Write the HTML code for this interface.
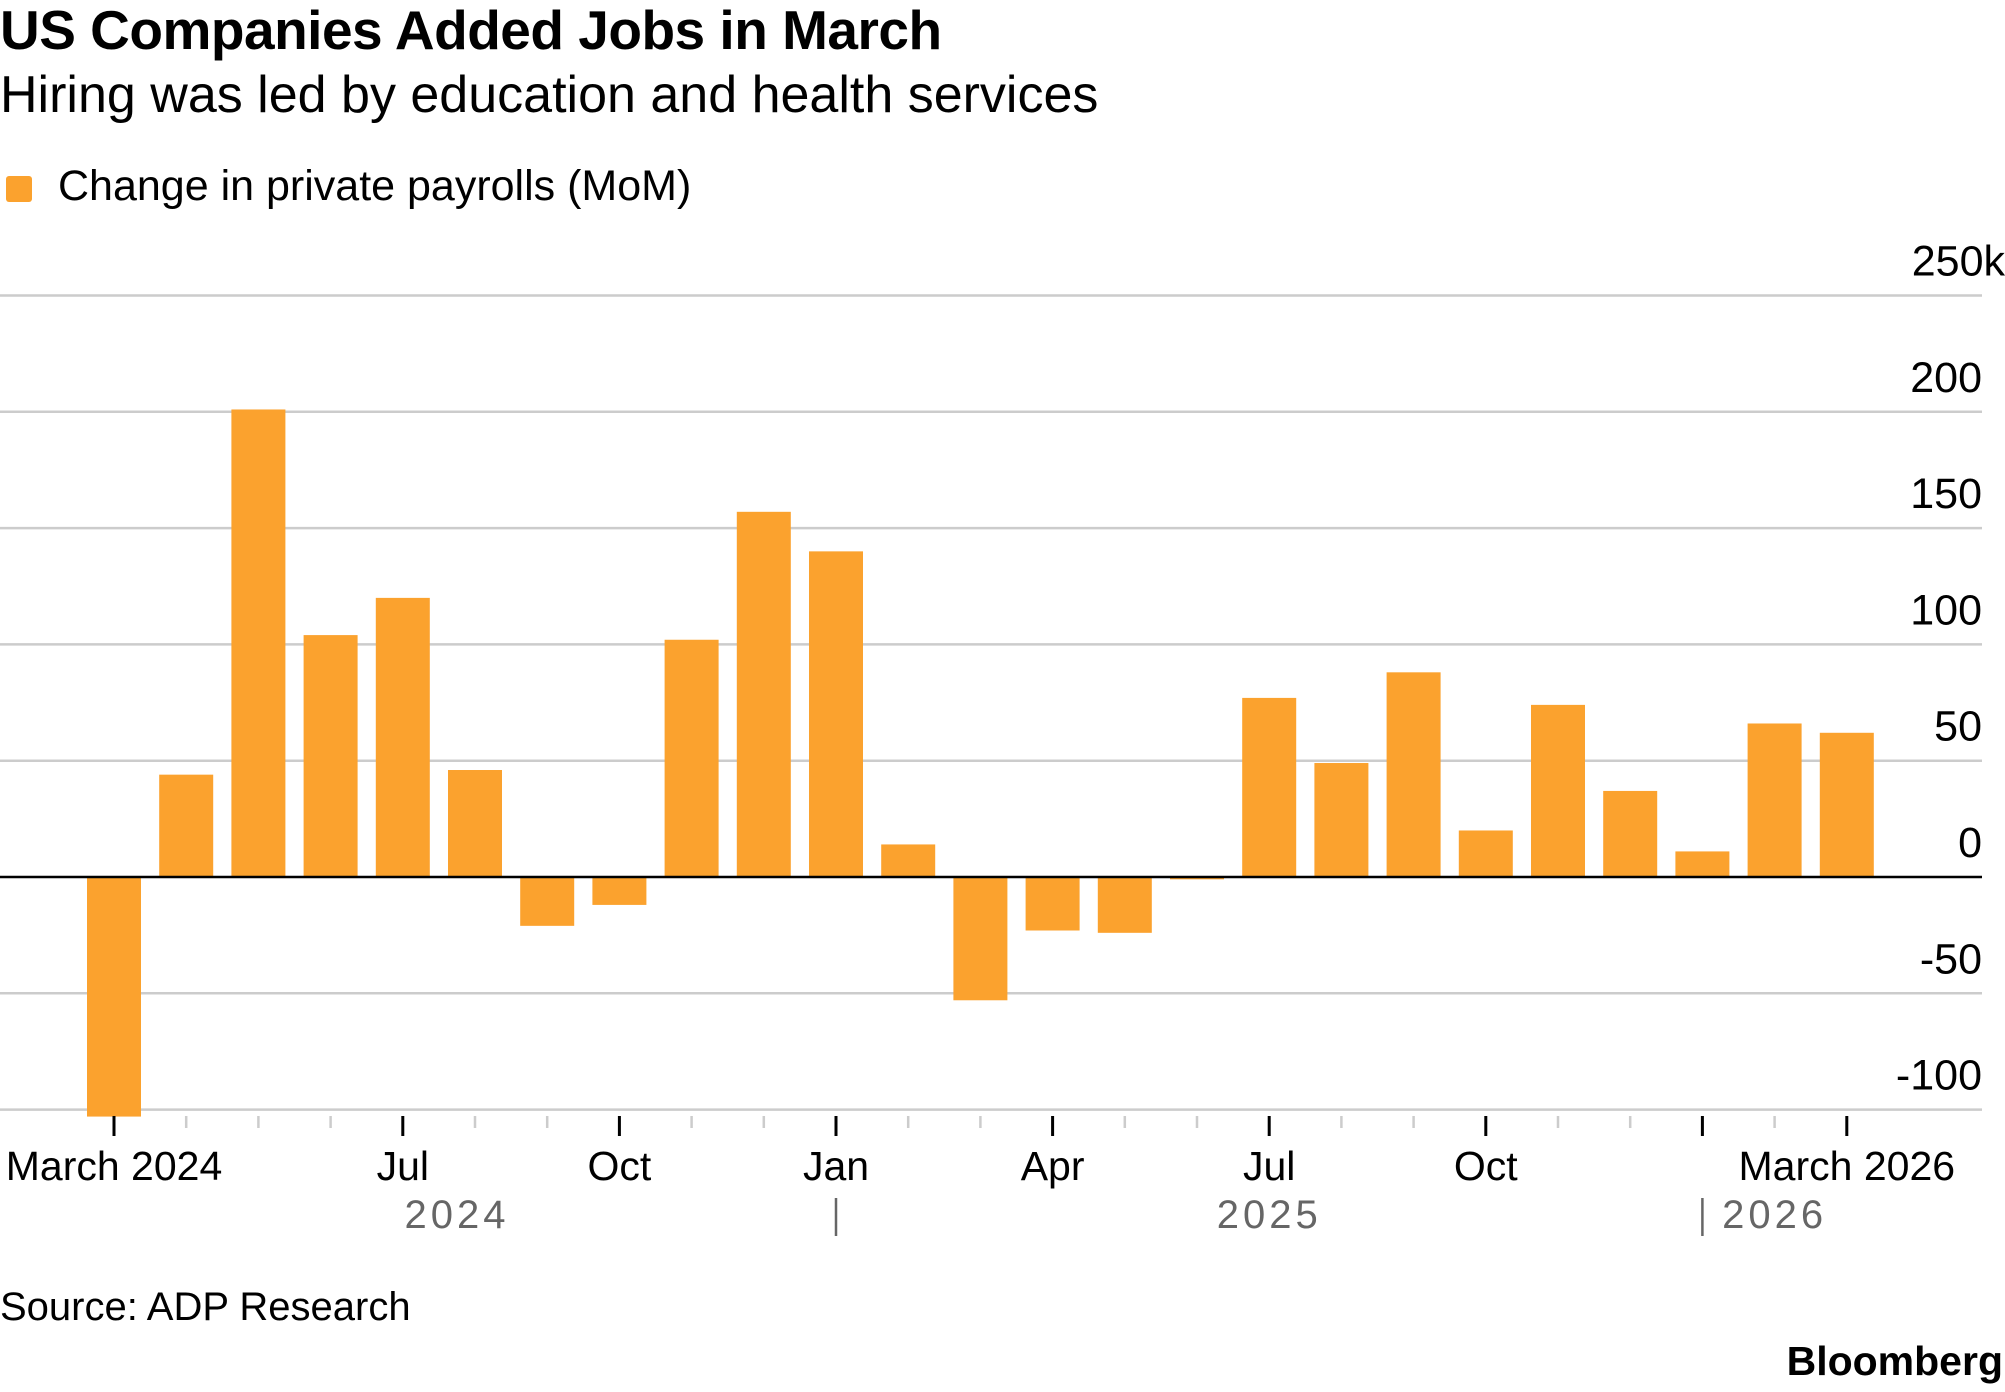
<!DOCTYPE html>
<html><head><meta charset="utf-8"><style>
body{margin:0;background:#fff;width:2005px;height:1392px;overflow:hidden;font-family:"Liberation Sans",sans-serif;color:#000}
.t{position:absolute;white-space:nowrap}
</style></head><body>
<div class="t" style="left:0;top:-2px;font-size:55px;font-weight:bold;letter-spacing:-0.5px">US Companies Added Jobs in March</div>
<div class="t" style="left:0;top:65px;font-size:52px">Hiring was led by education and health services</div>
<div>
<div style="position:absolute;left:6px;top:176px;width:26px;height:26px;background:#fba22e;border-radius:3px"></div>
<div class="t" style="left:58px;top:162px;font-size:43px">Change in private payrolls (MoM)</div>
</div>
<svg id="chart" width="2005" height="1392" style="position:absolute;left:0;top:0"></svg>
<div class="t" style="left:0;top:1285px;font-size:40px">Source: ADP Research</div>
<div class="t" style="right:2px;top:1338px;font-size:41px;font-weight:bold">Bloomberg</div>
<script>
const months=["Mar24","Apr24","May24","Jun24","Jul24","Aug24","Sep24","Oct24","Nov24","Dec24","Jan25","Feb25","Mar25","Apr25","May25","Jun25","Jul25","Aug25","Sep25","Oct25","Nov25","Dec25","Jan26","Feb26","Mar26"];
const values=[-103,44,201,104,120,46,-21,-12,102,157,140,14,-53,-23,-24,-1,77,49,88,20,74,37,11,66,62];
const yTicks=[250,200,150,100,50,0,-50,-100];
const yTickLabels=["250k","200","150","100","50","0","-50","-100"];
const majorIdx=[0,4,7,10,13,16,19,22,24];
const xLabelIdx=[0,4,7,10,13,16,19,24];
const xLabels=["March 2024","Jul","Oct","Jan","Apr","Jul","Oct","March 2026"];
const yearLabels=["2024","2025","2026"];
const yearPos=[4.75,16.0,23.0];
const yearSepIdx=[10,22];

const svg=document.getElementById('chart');
const NS='http://www.w3.org/2000/svg';
const y0=877,unit=116.3/50;
const y=v=>y0-v*unit;
const x=i=>114+i*72.2;
function el(t,a,txt){const e=document.createElementNS(NS,t);for(const k in a)e.setAttribute(k,a[k]);if(txt!==undefined)e.textContent=txt;svg.appendChild(e);return e;}
yTicks.forEach((v,i)=>{
  if(v!==0){const g=el('line',{x1:0,x2:1982,y1:y(v),y2:y(v),stroke:'#cccccc','stroke-width':2.5});
  
  }
  const t=el('text',{x:i==0?2005:1982,y:y(v)-20,'text-anchor':'end','font-size':43,'font-family':'Liberation Sans, sans-serif'},yTickLabels[i]);
  
  
});
values.forEach((v,i)=>{
  const top=Math.min(y(v),y0),h=Math.abs(y(v)-y0);
  const r=el('rect',{x:x(i)-27,y:top,width:54,height:Math.max(h,1.5),fill:'#fba22e'});
  
  
});
const zl=el('line',{x1:0,x2:1982,y1:y0,y2:y0,stroke:'#000','stroke-width':2.5});


months.forEach((m,i)=>{
  const maj=majorIdx.includes(i);
  const tk=el('line',{x1:x(i),x2:x(i),y1:1116,y2:maj?1136:1128,stroke:maj?'#000':'#ccc','stroke-width':maj?3:2.5});
  
  
});
xLabelIdx.forEach((idx,k)=>{
  const t=el('text',{x:x(idx),y:1180,'text-anchor':'middle','font-size':41,'font-family':'Liberation Sans, sans-serif'},xLabels[k]);
  
  
});
yearLabels.forEach((yl,k)=>{
  const t=el('text',{x:x(yearPos[k]),y:1228,'text-anchor':'middle','font-size':40,fill:'#666','letter-spacing':4,'font-family':'Liberation Sans, sans-serif'},yl);
  
  
});
yearSepIdx.forEach(i=>{
  const s=el('line',{x1:x(i),x2:x(i),y1:1198,y2:1236,stroke:'#666','stroke-width':2.5});
  
  
});
</script>
</body></html>
